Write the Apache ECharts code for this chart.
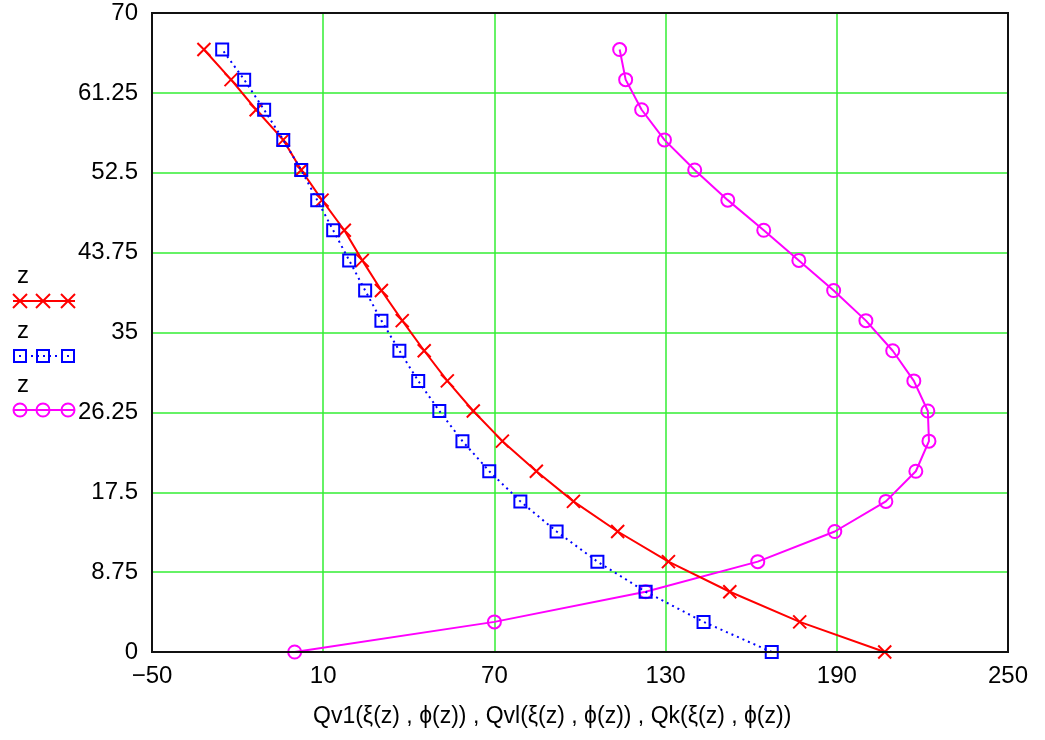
<!DOCTYPE html>
<html>
<head>
<meta charset="utf-8">
<script src="https://cdn.jsdelivr.net/npm/echarts@6/dist/echarts.min.js"></script>
<style>
  html, body { margin: 0; padding: 0; background: #fff; }
  #chart { width: 1045px; height: 740px; }
</style>
</head>
<body>
<div id="chart"></div>
<script>
// z values (vertical axis), shared by all three curves
var zValues = [0, 3.3, 6.6, 9.9, 13.2, 16.5, 19.8, 23.1, 26.4, 29.7, 33, 36.3, 39.6, 42.9, 46.2, 49.5, 52.8, 56.1, 59.4, 62.7, 66]
// Qv1(xi(z), phi(z))
var qv1 = [206.8, 177, 152.5, 131, 113.2, 97.7, 84.7, 72.8, 62.6, 53.5, 45.4, 37.7, 30.4, 23.7, 17.4, 9.6, 2.3, -4, -13.5, -22.3, -31.8]
// Qvl(xi(z), phi(z))
var qvl = [167.2, 143.3, 123, 106.1, 91.8, 79.1, 68.2, 58.8, 50.7, 43.3, 36.7, 30.4, 24.7, 19.1, 13.5, 7.9, 2.3, -4, -10.7, -17.7, -25.4]
// Qk(xi(z), phi(z))
var qk = [0, 70, 123, 162.3, 189.3, 207.2, 217.7, 222.3, 221.9, 217, 209.6, 200.2, 188.9, 176.7, 164.4, 151.8, 140.2, 129.6, 121.6, 116, 113.9]

var xLabelText = 'Qv1(\u03be(z) , \u03d5(z)) , Qvl(\u03be(z) , \u03d5(z)) , Qk(\u03be(z) , \u03d5(z))'
var crossPath = 'path://M0,0L10,10M10,0L0,10'

function pairs(xs) {
  var out = []
  for (var i = 0; i < xs.length; i++) {
    out.push([xs[i], zValues[i]])
  }
  return out
}

var chart = echarts.init(document.getElementById('chart'))

var fontFamily = '"Liberation Sans", Arial, sans-serif'

function legendItem(y, color, dashed, symbol) {
  var items = [{
    type: 'text',
    left: 17, top: y - 37,
    style: { text: 'z', font: '24px ' + fontFamily, fill: '#000' }
  }, {
    type: 'line',
    shape: { x1: 13, y1: y, x2: 75, y2: y },
    style: { stroke: color, lineWidth: 2, lineDash: dashed ? [2, 4] : null }
  }]
  ;[20, 43, 68].forEach(function(cx) {
    if (symbol === 'cross') {
      items.push({ type: 'polyline', shape: { points: [[cx - 7, y - 7], [cx + 7, y + 7]] }, style: { stroke: color, lineWidth: 2 } })
      items.push({ type: 'polyline', shape: { points: [[cx + 7, y - 7], [cx - 7, y + 7]] }, style: { stroke: color, lineWidth: 2 } })
    } else if (symbol === 'rect') {
      items.push({ type: 'rect', shape: { x: cx - 6, y: y - 6, width: 12, height: 12 }, style: { fill: 'none', stroke: color, lineWidth: 2 } })
    } else {
      items.push({ type: 'circle', shape: { cx: cx, cy: y, r: 6.5 }, style: { fill: 'none', stroke: color, lineWidth: 2 } })
    }
  })
  return items
}

var graphics = []
  .concat(legendItem(301, '#ff0000', false, 'cross'))
  .concat(legendItem(356, '#0000ff', true, 'rect'))
  .concat(legendItem(410, '#ff00ff', false, 'circle'))
graphics.push({
  type: 'text',
  left: 313, top: 705,
  style: { text: xLabelText, font: '23px ' + fontFamily, fill: '#000' }
})
// plot frame on top of the grid lines
graphics.push({
  type: 'rect',
  shape: { x: 152, y: 13, width: 856, height: 639 },
  style: { fill: 'none', stroke: '#111', lineWidth: 2 },
  z: 100
})

chart.setOption({
  animation: false,
  backgroundColor: '#fff',
  grid: {
    left: 152,
    right: 37,
    top: 13,
    bottom: 88,
    containLabel: false
  },
  xAxis: {
    type: 'value',
    min: -50,
    max: 250,
    interval: 60,
    axisLine: { show: false },
    axisTick: { show: false },
    splitLine: { show: true, showMinLine: false, showMaxLine: false, lineStyle: { color: '#33ee33', width: 1.5 } },
    axisLabel: {
      color: '#000',
      fontSize: 24,
      fontFamily: fontFamily,
      margin: 12,
      formatter: function(v) { return String(v).replace('-', '\u2212') }
    }
  },
  yAxis: {
    type: 'value',
    min: 0,
    max: 70,
    interval: 8.75,
    axisLine: { show: false, onZero: false },
    axisTick: { show: false },
    splitLine: { show: true, showMinLine: false, showMaxLine: false, lineStyle: { color: '#33ee33', width: 1.5 } },
    axisLabel: {
      color: '#000',
      fontSize: 24,
      fontFamily: fontFamily,
      margin: 14,
      padding: [8, 0, 0, 0]
    }
  },
  graphic: graphics,
  series: [{
    name: 'Qv1',
    type: 'line',
    data: pairs(qv1),
    symbol: crossPath,
    symbolSize: 13,
    lineStyle: { color: '#ff0000', width: 2 },
    itemStyle: { color: '#ff0000', borderColor: '#ff0000', borderWidth: 2 },
    z: 3
  }, {
    name: 'Qvl',
    type: 'line',
    data: pairs(qvl),
    symbol: 'rect',
    symbolSize: 12,
    lineStyle: { color: '#0000ff', width: 2, type: [2, 4] },
    itemStyle: { color: 'rgba(0,0,0,0)', borderColor: '#0000ff', borderWidth: 2 },
    z: 4
  }, {
    name: 'Qk',
    type: 'line',
    data: pairs(qk),
    symbol: 'circle',
    symbolSize: 13,
    lineStyle: { color: '#ff00ff', width: 2 },
    itemStyle: { color: 'rgba(0,0,0,0)', borderColor: '#ff00ff', borderWidth: 2 },
    z: 2
  }]
})
</script>
</body>
</html>
